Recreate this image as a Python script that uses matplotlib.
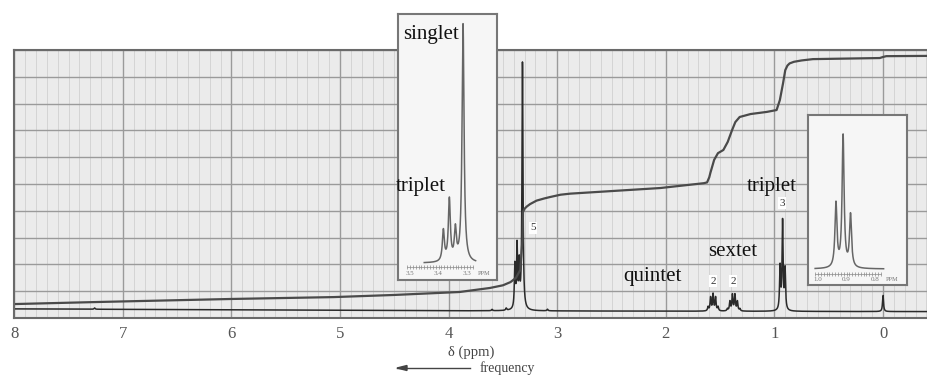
import numpy as np
import matplotlib.pyplot as plt
from matplotlib.ticker import MultipleLocator

W, H = 927, 378

# main spectrum: line positions (ppm) and heights above baseline
line_ppm = [7.26, 3.60, 3.47, 3.39, 3.37, 3.35, 3.32, 3.09,
            1.611, 1.588, 1.565, 1.542, 1.519,
            1.433, 1.410, 1.387, 1.364, 1.341, 1.318,
            0.948, 0.925, 0.902, 0.0]
line_height = [0.05, 0.05, 0.08, 1.6, 2.3, 1.6, 9.2, 0.06,
               0.15, 0.5, 0.62, 0.5, 0.15,
               0.08, 0.35, 0.6, 0.6, 0.35, 0.08,
               1.6, 3.3, 1.5, 0.6]
line_hwhm = 0.0055

base_ppm = [8.0, 4.0, 0.0, -0.41]
base_level = [0.34, 0.27, 0.24, 0.24]

# integration trace
integ_ppm = [8.0, 7.2, 6.0, 5.06, 4.5, 3.9, 3.62, 3.50, 3.43, 3.38, 3.34, 3.32,
             3.315, 3.30, 3.28, 3.25, 3.19, 3.12, 3.07, 2.97, 2.88, 2.05,
             1.65, 1.62, 1.60, 1.59, 1.555, 1.52, 1.47, 1.43, 1.39, 1.36, 1.32,
             1.22, 1.07, 0.98, 0.95, 0.92, 0.90, 0.88, 0.86, 0.82, 0.75, 0.645,
             0.03, 0.0, -0.03, -0.41]
integ_level = [0.52, 0.60, 0.71, 0.78, 0.86, 0.97, 1.12, 1.22, 1.34, 1.50, 1.79, 2.9,
               3.96, 4.08, 4.16, 4.25, 4.38, 4.46, 4.51, 4.60, 4.64, 4.85,
               5.03, 5.06, 5.25, 5.41, 5.9, 6.15, 6.27, 6.57, 7.01, 7.31, 7.5,
               7.61, 7.69, 7.76, 8.13, 8.77, 9.25, 9.42, 9.50, 9.56, 9.61, 9.66,
               9.70, 9.74, 9.77, 9.78]

# expanded regions
ins1_ppm = [3.383, 3.362, 3.341, 3.314]
ins1_height = [0.13, 0.26, 0.13, 1.0]
ins2_ppm = [0.937, 0.912, 0.886]
ins2_height = [0.45, 0.93, 0.37]

# integral numbers (ppm, level, text)
int_lbl_ppm = [3.22, 1.565, 1.38, 0.93]
int_lbl_y = [3.36, 1.38, 1.38, 4.29]
int_lbl_txt = ['5', '2', '2', '3']

ticks = [8, 7, 6, 5, 4, 3, 2, 1, 0]

plt.rcParams['font.family'] = ['Liberation Serif', 'DejaVu Serif']


def lorentz(x, pos, hgt, w):
    y = np.zeros_like(x)
    for p, h in zip(pos, hgt):
        y += h / (1 + ((x - p) / w) ** 2)
    return y


def px(x, y):
    return x / W, 1 - y / H


def box(x0, y0, x1, y1):
    return [x0 / W, 1 - y1 / H, (x1 - x0) / W, (y1 - y0) / H]


fig = plt.figure(figsize=(W / 100, H / 100), dpi=100)
fig.patch.set_facecolor('white')

ax = fig.add_axes(box(14, 50, W, 318))
ax.set_facecolor('#ebebeb')
ax.set_xlim(8.002, -0.405)
ax.set_ylim(0, 10)
ax.xaxis.set_major_locator(MultipleLocator(1))
ax.xaxis.set_minor_locator(MultipleLocator(0.1))
ax.yaxis.set_major_locator(MultipleLocator(1))
ax.grid(which='major', color='#9a9a9a', lw=1.0)
ax.grid(which='minor', axis='x', color='#d0d0d0', lw=0.6)
ax.set_axisbelow(True)
ax.set_xticks(ticks)
ax.set_xticklabels([str(t) for t in ticks])
ax.tick_params(axis='x', which='both', length=0, pad=6, labelsize=12, labelcolor='#555555')
ax.tick_params(axis='y', which='both', length=0, labelleft=False)
for s in ['left', 'top', 'bottom']:
    ax.spines[s].set_color('#6a6a6a')
    ax.spines[s].set_linewidth(1.5)
ax.spines['right'].set_visible(False)

x = np.linspace(8.0, -0.41, 60000)
spec = np.interp(x, base_ppm[::-1], base_level[::-1]) + lorentz(x, line_ppm, line_height, line_hwhm)
ax.plot(x, spec, color='#2a2a2a', lw=1.1)
ax.plot(integ_ppm, integ_level, color='#4a4a4a', lw=1.6, solid_capstyle='round',
        solid_joinstyle='round')

for p, yv, t in zip(int_lbl_ppm, int_lbl_y, int_lbl_txt):
    ax.text(p, yv, t, ha='center', va='center', fontsize=8, color='#333333',
            bbox=dict(facecolor='white', edgecolor='none', pad=1.0), zorder=5)


def inset(rect, xlim, ylim, pos, hgt, seg, tick_y, lbl_y, lbls, ppm_x):
    a = fig.add_axes(rect)
    a.set_facecolor('#f6f6f6')
    a.set_xlim(*xlim)
    a.set_ylim(*ylim)
    a.set_xticks([])
    a.set_yticks([])
    for s in a.spines.values():
        s.set_color('#777777')
        s.set_linewidth(1.5)
    xs = np.linspace(seg[0], seg[1], 4000)
    a.plot(xs, lorentz(xs, pos, hgt, 0.0042), color='#666666', lw=1.1)
    tx = np.arange(lbls[0] + 0.01, lbls[-1] - 0.021, -0.01)
    a.plot([tx[0], tx[-1]], [tick_y, tick_y], color='#8a8a8a', lw=0.5)
    a.plot(tx, np.full_like(tx, tick_y), ls='none', marker='|', ms=2.5, color='#8a8a8a', mew=0.5)
    for v in lbls:
        a.text(v, lbl_y, '%.1f' % v, ha='center', va='center', fontsize=5, color='#777777')
    a.text(ppm_x, lbl_y, 'PPM', ha='center', va='center', fontsize=4.5, color='#777777')
    return a


inset(box(398, 14, 497, 280), (3.542, 3.195), (-0.071, 1.046),
      ins1_ppm, ins1_height, (3.45, 3.27), -0.017, -0.042, [3.5, 3.4, 3.3], 3.24)
inset(box(808, 115, 907, 285), (1.035, 0.688), (-0.113, 1.085),
      ins2_ppm, ins2_height, (1.01, 0.77), -0.035, -0.077, [1.0, 0.9, 0.8], 0.74)

fs = 15
fig.text(*px(431, 34), 'singlet', ha='center', va='center', fontsize=fs, color='#111111')
fig.text(*px(421, 186), 'triplet', ha='center', va='center', fontsize=fs, color='#111111')
fig.text(*px(772, 187), 'triplet', ha='center', va='center', fontsize=fs, color='#111111')
fig.text(*px(652, 277), 'quintet', ha='center', va='center', fontsize=fs, color='#111111')
fig.text(*px(733, 252), 'sextet', ha='center', va='center', fontsize=fs, color='#111111')

fig.text(*px(471, 352), 'δ (ppm)', ha='center', va='center', fontsize=10.5, color='#444444')
fig.text(*px(480, 368), 'frequency', ha='left', va='center', fontsize=10, color='#444444')
fig.add_artist(plt.Line2D([397 / W, 470 / W], [1 - 368 / H, 1 - 368 / H], color='#444444', lw=1.0))
fig.add_artist(plt.Polygon([px(397, 368), px(407, 365.5), px(407, 370.5)], closed=True,
                           color='#444444', transform=fig.transFigure))

fig.savefig('out.png', dpi=100)
